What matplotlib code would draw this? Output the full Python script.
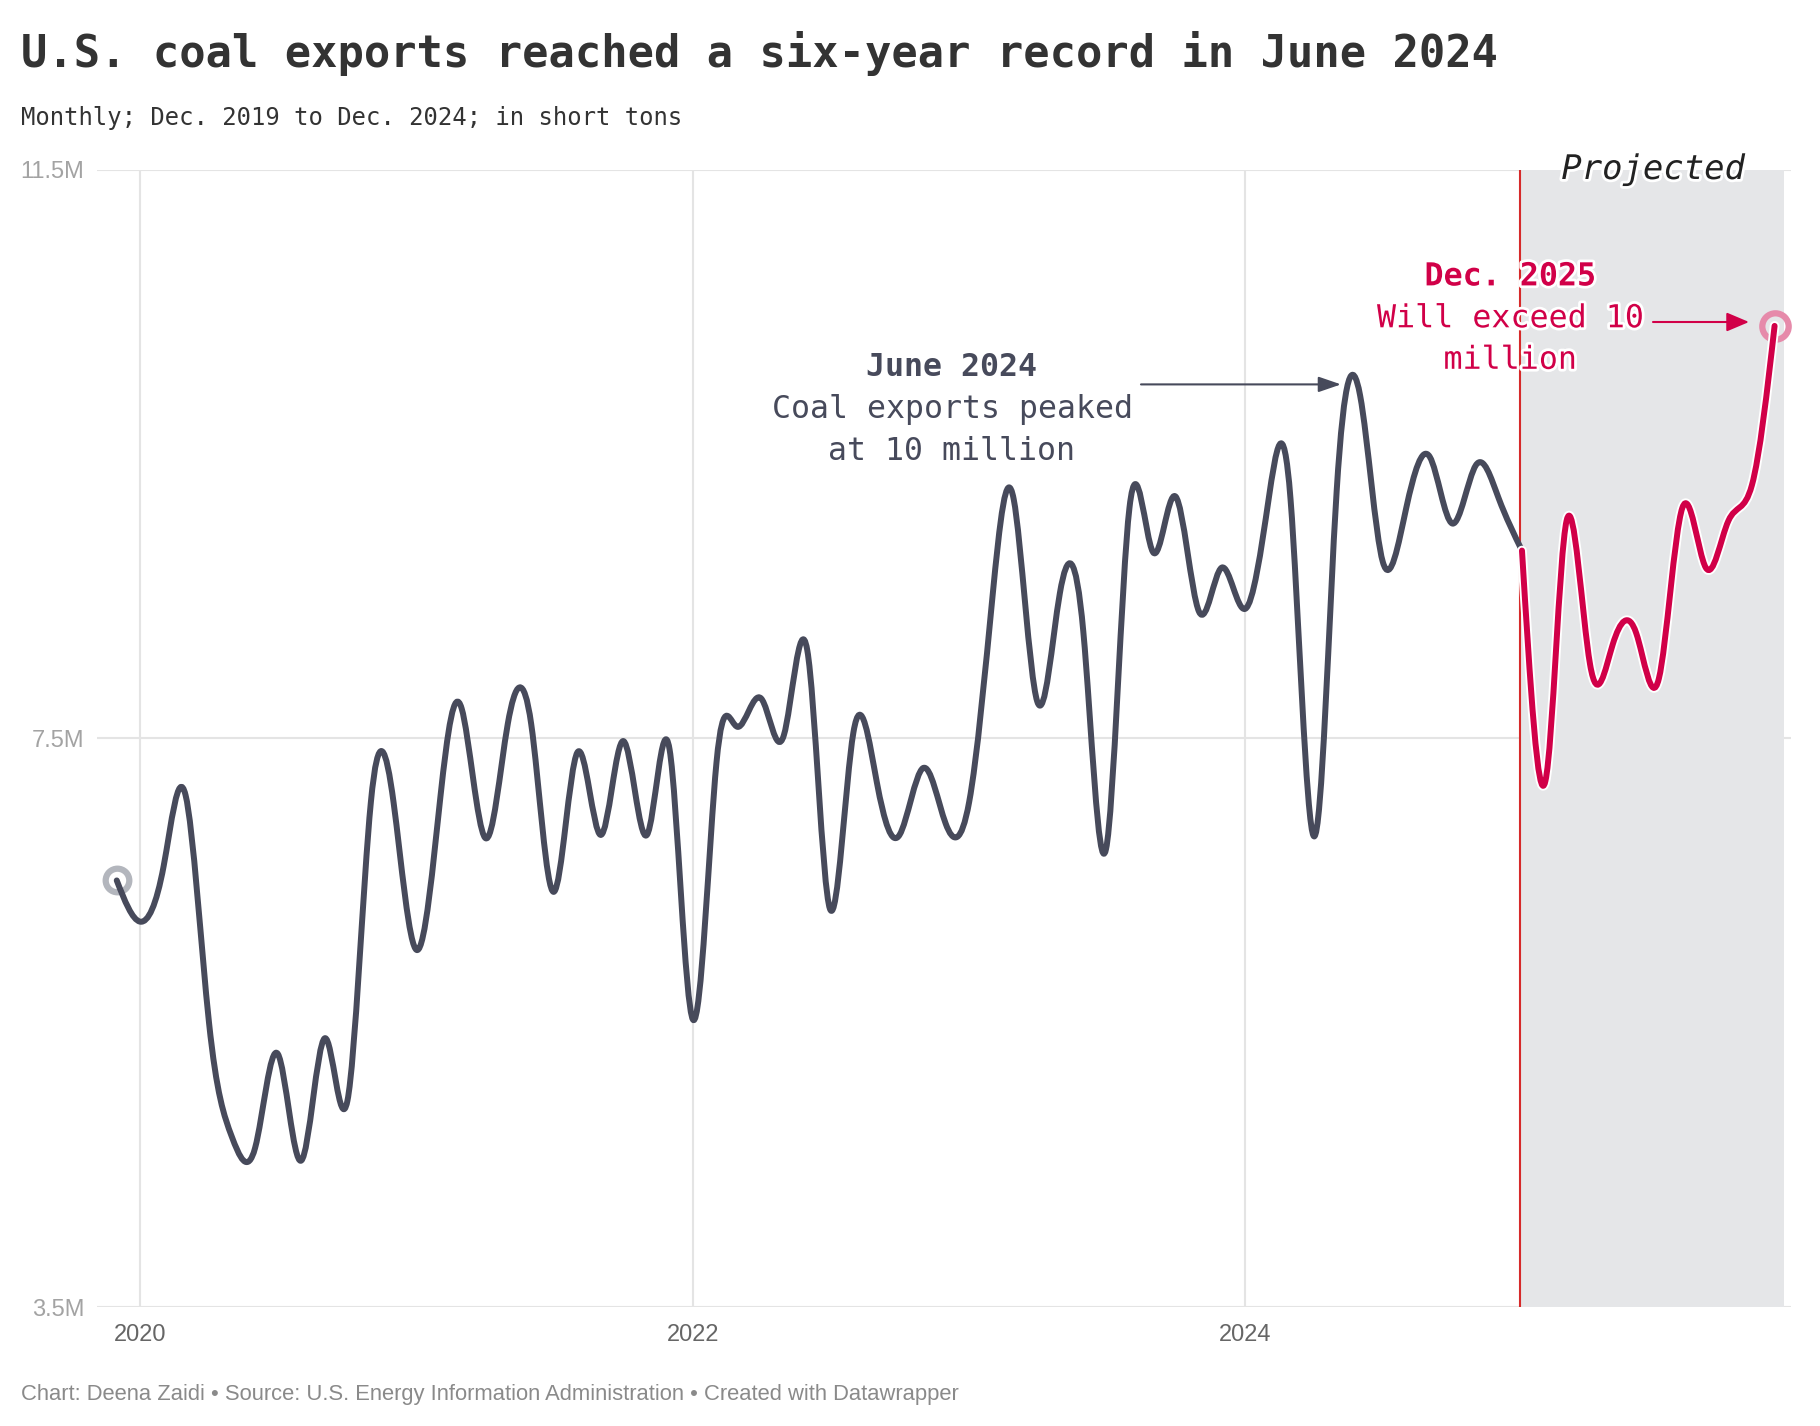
import numpy as np
import pandas as pd
import matplotlib
matplotlib.use("Agg")
import matplotlib.pyplot as plt
import matplotlib.dates as mdates
from matplotlib.path import Path
from matplotlib.patches import PathPatch, FancyArrowPatch
import matplotlib.patheffects as pe

# ---------------- data ----------------
hist_months = pd.date_range("2019-12-01", "2025-01-01", freq="MS")
hist_values = [6.50, 6.21, 6.60, 7.10, 5.50, 4.70, 4.62, 5.28, 4.53, 5.39, 4.95, 7.05, 7.05,
               6.01, 7.09, 7.71, 6.80, 7.60, 7.60, 6.42, 7.40, 6.82, 7.48, 6.82, 7.42,
               5.52, 7.33, 7.58, 7.78, 7.52, 8.12, 6.30, 7.54, 7.19, 6.82, 7.29, 6.90,
               7.05, 8.50, 9.18, 7.76, 8.52, 8.25, 6.72, 9.12, 8.81, 9.20, 8.39, 8.70,
               8.41, 9.18, 9.18, 6.81, 9.24, 9.91, 8.74, 9.12, 9.48, 9.01, 9.42, 9.19,
               8.82]
proj_months = pd.date_range("2025-01-01", "2025-12-01", freq="MS")
proj_values = [8.82, 7.20, 9.03, 8.02, 8.16, 8.24, 7.92, 9.12, 8.70, 9.03, 9.28, 10.40]

y_ticks = [3.5, 7.5, 11.5]
y_tick_labels = ["3.5M", "7.5M", "11.5M"]
x_tick_years = [2020, 2022, 2024]

title = "U.S. coal exports reached a six-year record in June 2024"
subtitle = "Monthly; Dec. 2019 to Dec. 2024; in short tons"
footer = "Chart: Deena Zaidi \u2022 Source: U.S. Energy Information Administration \u2022 Created with Datawrapper"

# ---------------- style ----------------
DARK = "#474a5b"
RED = "#d10048"
W, H = 1820, 1426


def fx(px):
    return px / W


def fy(py):
    return 1 - py / H


def _natural_ctrl(x):
    # control points of a natural cubic spline (as in d3.curveNatural)
    x = np.asarray(x, dtype=float)
    n = len(x) - 1
    if n == 1:
        return [np.array([x[0] + (x[1] - x[0]) / 3])], [np.array([x[0] + 2 * (x[1] - x[0]) / 3])]
    a = np.zeros(n); b = np.zeros(n); r = np.zeros(n)
    a[0], b[0], r[0] = 0, 2, x[0] + 2 * x[1]
    for i in range(1, n - 1):
        a[i], b[i], r[i] = 1, 4, 4 * x[i] + 2 * x[i + 1]
    a[n - 1], b[n - 1], r[n - 1] = 2, 7, 8 * x[n - 1] + x[n]
    for i in range(1, n):
        m = a[i] / b[i - 1]
        b[i] -= m
        r[i] -= m * r[i - 1]
    a[n - 1] = r[n - 1] / b[n - 1]
    for i in range(n - 2, -1, -1):
        a[i] = (r[i] - a[i + 1]) / b[i]
    b[n - 1] = (x[n] + a[n - 1]) / 2
    for i in range(n - 1):
        b[i] = 2 * x[i + 1] - a[i + 1]
    return a, b


def natural_path(xs, ys):
    ax_, bx_ = _natural_ctrl(xs)
    ay_, by_ = _natural_ctrl(ys)
    verts = [(xs[0], ys[0])]
    codes = [Path.MOVETO]
    for i in range(len(xs) - 1):
        verts += [(ax_[i], ay_[i]), (bx_[i], by_[i]), (xs[i + 1], ys[i + 1])]
        codes += [Path.CURVE4] * 3
    return Path(np.array(verts), codes)


fig = plt.figure(figsize=(W / 100, H / 100), dpi=100)
fig.patch.set_facecolor("white")
ax = fig.add_axes([fx(97), fy(1307), (1791 - 97) / W, (1307 - 169.5) / H])

base = mdates.date2num(pd.Timestamp("2020-01-01"))
ax.set_xlim(base - 57.1, base + 2182.7)
ax.set_ylim(3.5, 11.5)

for s in ax.spines.values():
    s.set_visible(False)

ax.set_yticks(y_ticks)
ax.set_yticklabels(y_tick_labels, family="Liberation Sans", fontsize=17, color="#a3a3a3")
xt = [mdates.date2num(pd.Timestamp(f"{y}-01-01")) for y in x_tick_years]
ax.set_xticks(xt)
ax.set_xticklabels([str(y) for y in x_tick_years], family="Liberation Sans", fontsize=17, color="#666666")
ax.tick_params(axis="y", length=0, pad=9)
ax.tick_params(axis="x", length=0, pad=12)
ax.grid(True, color="#e4e4e4", lw=1.5, zorder=0)
ax.set_axisbelow(True)

# projection shading and divider
proj_start = mdates.date2num(proj_months[0])
ax.axvspan(proj_start - 2, base + 2173, color="#e5e6e8", lw=0, zorder=1)
ax.axvline(proj_start - 2, color="#d62a2a", lw=1.5, zorder=2)

# lines
hx = mdates.date2num(hist_months)
px_ = mdates.date2num(proj_months)
ax.plot(hx[0], hist_values[0], "o", ms=17, mfc="none", mec="#b3b6bd", mew=4.5, zorder=4)
ax.plot(px_[-1], proj_values[-1], "o", ms=19, mfc="none", mec="#e68aaa", mew=4.5, zorder=4)

hist_patch = PathPatch(natural_path(hx, np.array(hist_values)), fill=False, edgecolor=DARK,
                       lw=4.3, capstyle="round", joinstyle="round", zorder=5)
ax.add_patch(hist_patch)
proj_patch = PathPatch(natural_path(px_, np.array(proj_values)), fill=False, edgecolor=RED,
                       lw=4.3, capstyle="round", joinstyle="round", zorder=6)
proj_patch.set_path_effects([pe.Stroke(linewidth=7, foreground="white"), pe.Normal()])
ax.add_patch(proj_patch)

# titles
fig.text(fx(21), fy(67), title, family="DejaVu Sans Mono", fontweight="bold", fontsize=31.5,
         color="#333333", va="baseline", ha="left")
fig.text(fx(21), fy(125), subtitle, family="DejaVu Sans Mono", fontsize=17.2,
         color="#333333", va="baseline", ha="left")
fig.text(fx(21), fy(1400), footer, family="Liberation Sans", fontsize=15.8,
         color="#8a8a8a", va="baseline", ha="left")

# annotation: June 2024
fig.text(fx(952), fy(376), "June 2024", family="DejaVu Sans Mono", fontweight="bold",
         fontsize=22.8, color=DARK, ha="center", va="baseline", zorder=10)
fig.text(fx(952), fy(418), "Coal exports peaked", family="DejaVu Sans Mono",
         fontsize=22.8, color=DARK, ha="center", va="baseline", zorder=10)
fig.text(fx(952), fy(460), "at 10 million", family="DejaVu Sans Mono",
         fontsize=22.8, color=DARK, ha="center", va="baseline", zorder=10)
fig.patches.append(FancyArrowPatch(
    (fx(1141), fy(384.4)), (fx(1341), fy(384.4)), transform=fig.transFigure,
    arrowstyle="-|>,head_length=13.7,head_width=4.7", mutation_scale=1,
    color=DARK, lw=1.5, shrinkA=0, shrinkB=0, zorder=10))

# annotation: Dec. 2025
halo = [pe.withStroke(linewidth=4, foreground="white")]
for txt, yy, wt in [("Dec. 2025", 285.4, "bold"), ("Will exceed 10", 327.3, "normal"),
                    ("million", 368.8, "normal")]:
    fig.text(fx(1510), fy(yy), txt, family="DejaVu Sans Mono", fontweight=wt,
             fontsize=22.8, color=RED, ha="center", va="baseline", zorder=10,
             path_effects=halo)
fig.patches.append(FancyArrowPatch(
    (fx(1653), fy(322)), (fx(1749), fy(322)), transform=fig.transFigure,
    arrowstyle="-|>,head_length=13.7,head_width=5.8", mutation_scale=1,
    color=RED, lw=1.5, shrinkA=0, shrinkB=0, zorder=10))

fig.text(fx(1653), fy(179), "Projected", family="DejaVu Sans Mono", style="italic",
         fontsize=24.4, color="#222222", ha="center", va="baseline", zorder=10,
         path_effects=halo)

fig.savefig("out.png", dpi=100, facecolor="white")
